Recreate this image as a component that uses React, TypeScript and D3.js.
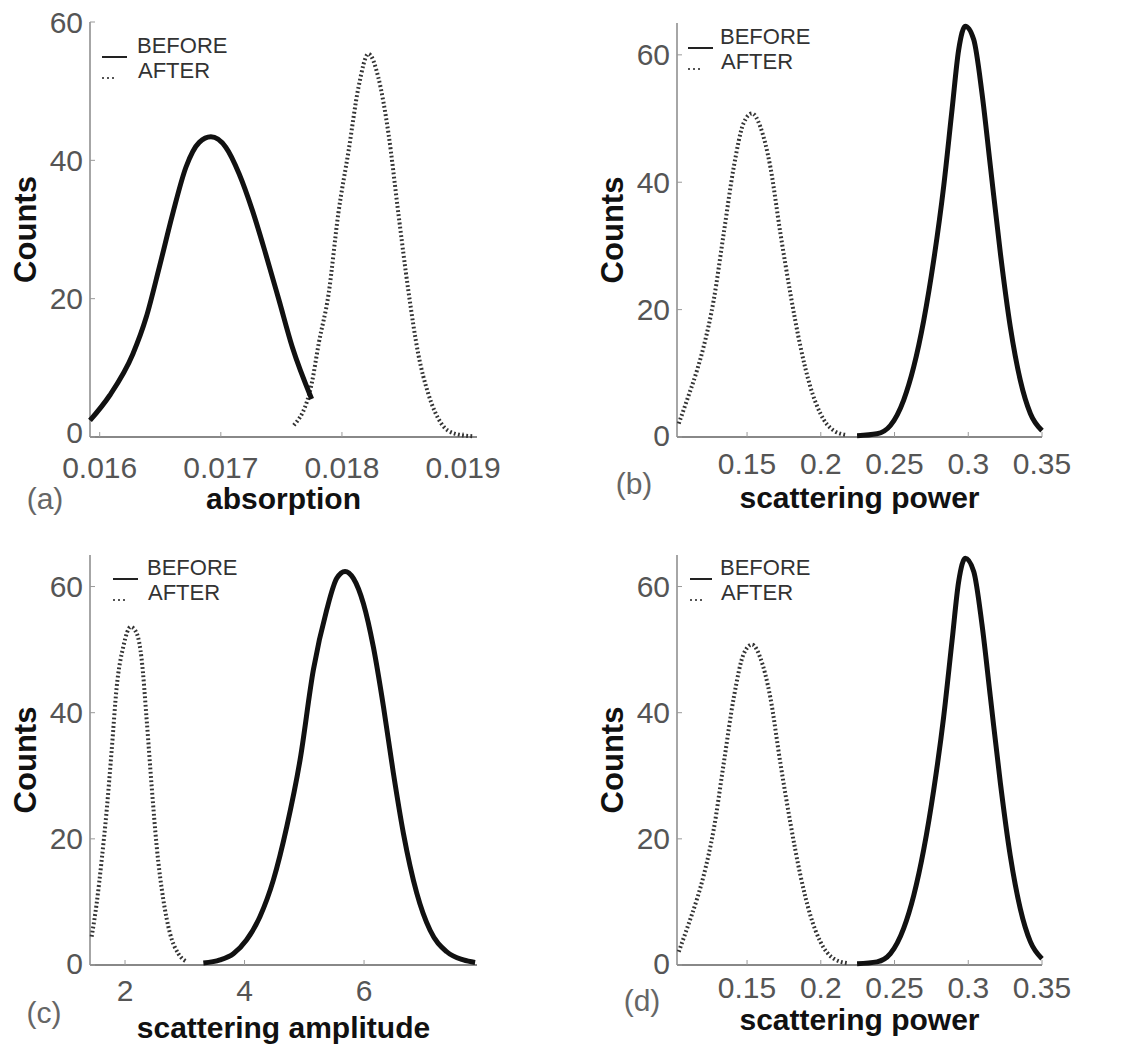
import React from 'react'
import * as d3 from 'd3'

// values: [x, counts]
const absBefore: [number, number][] = [
  [0.01592, 2.4], [0.016082, 6.0], [0.016274, 12.0], [0.016384, 17.3], [0.016493, 24.6],
  [0.016603, 32.3], [0.016712, 39.0], [0.016822, 42.6], [0.016918, 43.4], [0.017041, 41.9],
  [0.01715, 38.1], [0.01726, 32.8], [0.01737, 26.5], [0.01748, 19.8], [0.01759, 13.0],
  [0.01775, 5.5],
]
const absAfter: [number, number][] = [
  [0.017603, 1.7], [0.01775, 7.7], [0.017808, 13.5], [0.01789, 20.7], [0.01797, 32.3],
  [0.018055, 41.4], [0.018137, 50.6], [0.018219, 55.4], [0.0183, 52.0], [0.018384, 43.9],
  [0.018466, 32.3], [0.018548, 21.2], [0.01863, 12.0], [0.018712, 6.3], [0.018822, 1.9],
  [0.01893, 0.5], [0.019082, 0.1],
]
const powerBefore: [number, number][] = [
  [0.2246, 0.2], [0.2381, 0.5], [0.2472, 1.8], [0.2562, 5.8], [0.263, 11], [0.2698, 18.3],
  [0.2766, 27.8], [0.2833, 39.3], [0.289, 51.4], [0.2935, 60.8], [0.298, 64.5], [0.3037, 62.4],
  [0.3093, 54], [0.315, 42.5], [0.3218, 28.8], [0.3285, 17.3], [0.3353, 8.9], [0.3421, 3.7],
  [0.35, 1.0],
]
const powerAfter: [number, number][] = [
  [0.1037, 2.1], [0.1093, 5.8], [0.1161, 10.5], [0.1206, 14.2], [0.1274, 21.5], [0.1342, 32],
  [0.141, 42.4], [0.1477, 49.3], [0.1534, 50.8], [0.159, 48.7], [0.1658, 42.4], [0.1726, 32],
  [0.1794, 22.5], [0.1862, 14.2], [0.1929, 7.9], [0.1997, 3.7], [0.2088, 1.0], [0.2178, 0.3],
]
const ampBefore: [number, number][] = [
  [3.311, 0.3], [3.59, 0.8], [3.813, 1.8], [4.036, 4.0], [4.259, 7.7], [4.483, 13.5],
  [4.706, 21.9], [4.929, 32.5], [5.152, 46.8], [5.375, 56.3], [5.543, 61.3], [5.682, 62.4],
  [5.822, 61.3], [5.989, 57.3], [6.156, 50.4], [6.324, 41], [6.491, 30.4], [6.658, 20.9],
  [6.882, 11.4], [7.105, 5.5], [7.384, 2.1], [7.663, 0.8], [7.858, 0.4],
]
const ampAfter: [number, number][] = [
  [1.442, 4.5], [1.526, 9.8], [1.609, 16.6], [1.693, 24.5], [1.777, 34.1], [1.861, 44.1],
  [1.972, 50.5], [2.095, 53.6], [2.195, 52.6], [2.279, 48.4], [2.363, 38.8], [2.446, 28.3],
  [2.53, 18.8], [2.642, 10.3], [2.753, 5.0], [2.893, 1.8], [3.032, 0.5],
]

const countTicks = [0, 20, 40, 60]
const absTicks = [0.016, 0.017, 0.018, 0.019]
const powerTicks = [0.15, 0.2, 0.25, 0.3, 0.35]
const ampTicks = [2, 4, 6]
const legendLabels = ['BEFORE', 'AFTER']

const tickFont = '"Liberation Sans", Arial, sans-serif'

function Panel(props: any) {
  const { box, xDomain, yDomain, xTicks, before, after, xLabel, tag, lay } = props
  const x = d3.scaleLinear().domain(xDomain).range([box.left, box.right])
  const y = d3.scaleLinear().domain(yDomain).range([box.bottom, box.top])
  const line = d3.line<[number, number]>()
    .x(d => x(d[0]))
    .y(d => y(d[1]))
    .curve(d3.curveMonotoneX)
  const midY = (box.top + box.bottom) / 2

  return (
    <g>
      {/* axes, no box */}
      <line x1={box.left} x2={box.left} y1={box.top} y2={box.bottom} stroke="#888" strokeWidth={1.5} />
      <line x1={box.left} x2={box.right} y1={box.bottom} y2={box.bottom} stroke="#888" strokeWidth={2} />
      {countTicks.map(t => (
        <g key={'y' + t}>
          <line x1={box.left} x2={box.left + 5} y1={y(t)} y2={y(t)} stroke="#999" />
          <text x={box.left - 7} y={y(t) - (t === 0 ? lay.zeroUp : 0)} textAnchor="end" dominantBaseline="central"
            fontFamily={tickFont} fontSize={30} fill="#555">{t}</text>
        </g>
      ))}
      {xTicks.map((t: number) => (
        <g key={'x' + t}>
          <line x1={x(t)} x2={x(t)} y1={box.bottom} y2={box.bottom - 5} stroke="#999" />
          <text x={x(t)} y={box.bottom + lay.tickDy} textAnchor="middle" dominantBaseline="central"
            fontFamily={tickFont} fontSize={30} fill="#555">{String(t)}</text>
        </g>
      ))}

      {/* curves */}
      <path d={line(after) || ''} fill="none" stroke="#333" strokeWidth={4} strokeDasharray="1.8 2.4" />
      <path d={line(before) || ''} fill="none" stroke="#111" strokeWidth={5} strokeLinejoin="round" />

      {/* legend */}
      <line x1={box.left + lay.legX0} x2={box.left + lay.legX1} y1={box.top + lay.legY + 12}
        y2={box.top + lay.legY + 12} stroke="#222" strokeWidth={2} />
      <line x1={box.left + lay.legX0} x2={box.left + lay.legX0 + 14} y1={box.top + lay.legY + 33}
        y2={box.top + lay.legY + 33} stroke="#555" strokeWidth={2} strokeDasharray="2 3" />
      {legendLabels.map((l, i) => (
        <text key={l} x={box.left + lay.legTx + i} y={box.top + lay.legY + i * 25}
          dominantBaseline="central" fontFamily={tickFont} fontSize={22} fill="#333">{l}</text>
      ))}

      {/* titles */}
      <text transform={`translate(${box.left - 65},${midY}) rotate(-90)`} textAnchor="middle"
        dominantBaseline="central" fontFamily={tickFont} fontWeight="bold" fontSize={31} fill="#111">Counts</text>
      <text x={(box.left + box.right) / 2} y={box.bottom + lay.labDy} textAnchor="middle"
        dominantBaseline="central" fontFamily={tickFont} fontWeight="bold" fontSize={30} fill="#111">{xLabel}</text>
      <text x={lay.tagX} y={box.bottom + lay.tagDy} textAnchor="middle" dominantBaseline="central"
        fontFamily={tickFont} fontSize={30} fill="#666">{tag}</text>
    </g>
  )
}

export default function App() {
  return (
    <svg width={1147} height={1048} style={{ position: 'absolute', left: 0, top: 0, background: '#fff' }}>
      <Panel box={{ left: 90, right: 477, top: 22, bottom: 437 }} xDomain={[0.01592, 0.019115]} yDomain={[0, 60]}
        xTicks={absTicks} before={absBefore} after={absAfter} xLabel="absorption" tag="(a)"
        lay={{ zeroUp: 5, tickDy: 30, labDy: 61, tagX: 45, tagDy: 61, legX0: 12, legX1: 37, legTx: 47, legY: 23 }} />
      <Panel box={{ left: 677, right: 1042, top: 23, bottom: 437 }} xDomain={[0.1025, 0.35]} yDomain={[0, 65]}
        xTicks={powerTicks} before={powerBefore} after={powerAfter} xLabel="scattering power" tag="(b)"
        lay={{ zeroUp: 2, tickDy: 26, labDy: 60, tagX: 634, tagDy: 46, legX0: 11, legX1: 36, legTx: 43, legY: 13 }} />
      <Panel box={{ left: 90, right: 477, top: 555, bottom: 965 }} xDomain={[1.414, 7.89]} yDomain={[0, 65]}
        xTicks={ampTicks} before={ampBefore} after={ampAfter} xLabel="scattering amplitude" tag="(c)"
        lay={{ zeroUp: 2, tickDy: 25, labDy: 62, tagX: 44, tagDy: 47, legX0: 23, legX1: 48, legTx: 57, legY: 12 }} />
      <Panel box={{ left: 677, right: 1042, top: 555, bottom: 965 }} xDomain={[0.1025, 0.35]} yDomain={[0, 65]}
        xTicks={powerTicks} before={powerBefore} after={powerAfter} xLabel="scattering power" tag="(d)"
        lay={{ zeroUp: 2, tickDy: 22, labDy: 54, tagX: 642, tagDy: 35, legX0: 13, legX1: 35, legTx: 43, legY: 12 }} />
    </svg>
  )
}
